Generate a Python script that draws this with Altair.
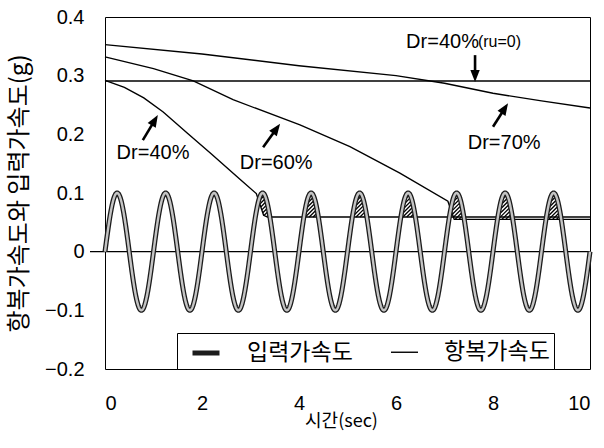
import numpy as np
import pandas as pd
import altair as alt

# ---- input motion: harmonic base acceleration ----
INPUT_AMP_G = 0.1      # peak acceleration (g)
INPUT_FREQ_HZ = 1.0    # loading frequency
DURATION_S = 10.0

# ---- yield acceleration curves (time in s, acceleration in g) ----
DR40_RU0_T = [0.0, 10.0]
DR40_RU0_G = [0.291, 0.291]

DR40_T = [0.0, 0.4, 0.8, 1.2, 1.7, 2.2, 2.8, 3.12, 3.27, 3.35, 10.0]
DR40_G = [0.292, 0.280, 0.262, 0.238, 0.202, 0.166, 0.122, 0.099, 0.062, 0.059, 0.059]

DR60_T = [0.0, 1.0, 1.82, 2.64, 4.02, 5.05, 6.08, 7.07, 7.2, 10.0]
DR60_G = [0.332, 0.312, 0.291, 0.259, 0.216, 0.179, 0.134, 0.086, 0.055, 0.055]

DR70_T = [0.0, 2.0, 4.0, 6.0, 7.0, 8.0, 9.0, 10.0]
DR70_G = [0.353, 0.337, 0.317, 0.300, 0.287, 0.270, 0.257, 0.245]

CURVES = {
    "Dr=40%(ru=0)": (DR40_RU0_T, DR40_RU0_G),
    "Dr=40%": (DR40_T, DR40_G),
    "Dr=60%": (DR60_T, DR60_G),
    "Dr=70%": (DR70_T, DR70_G),
}

# ---- annotations ----
LABEL_TEXT = ["Dr=40%", "Dr=60%", "Dr=70%", "Dr=40%", "(ru=0)"]
LABEL_T = [0.99, 3.53, 8.23, 7.71, 7.69]
LABEL_G = [0.168, 0.151, 0.185, 0.357, 0.357]
LABEL_ALIGN = ["center", "center", "center", "right", "left"]
LABEL_SIZE = [20, 20, 20, 20, 16]

ARROW_TAIL_T = [0.78, 3.26, 8.00, 7.63]
ARROW_TAIL_G = [0.190, 0.178, 0.213, 0.335]
ARROW_TIP_T = [1.09, 3.61, 8.31, 7.63]
ARROW_TIP_G = [0.233, 0.218, 0.253, 0.289]

X_TICKS = [0, 2, 4, 6, 8, 10]
Y_TICKS = [-0.2, -0.1, 0, 0.1, 0.2, 0.3, 0.4]
KINDS = ["입력가속도", "항복가속도"]

W, H = 485, 352
X_DOM = [0, 10]
Y_DOM = [-0.2, 0.4]
SX = W / (X_DOM[1] - X_DOM[0])
SY = H / (Y_DOM[1] - Y_DOM[0])

NUM_FONT = "Liberation Sans"
KR_FONT = "Noto Sans CJK KR"

# ---- tables ----
t_line = np.linspace(0, DURATION_S, 2001)
acc_line = INPUT_AMP_G * np.sin(2 * np.pi * INPUT_FREQ_HZ * t_line)
sine_df = pd.DataFrame({"t": t_line, "g": acc_line, "kind": KINDS[0]})

yield_rows = []
for name, (ts, gs) in CURVES.items():
    for tv, gv in zip(ts, gs):
        yield_rows.append({"t": tv, "g": gv, "curve": name, "kind": KINDS[1]})
yield_df = pd.DataFrame(yield_rows)

# hatch strokes ("/" direction) where the input exceeds the lowest yield level
t_f = np.linspace(0, DURATION_S, 20001)
acc_f = INPUT_AMP_G * np.sin(2 * np.pi * INPUT_FREQ_HZ * t_f)
floor_f = np.minimum.reduce([np.interp(t_f, ts, gs) for ts, gs in CURVES.values()])
over = acc_f > floor_f
hatch_rows = []
for c in np.arange(-80.0, W + 80.0, 3.9):
    g_line = (t_f * SX - c) / SY
    m = over & (g_line >= floor_f) & (g_line <= acc_f)
    idx = np.flatnonzero(m)
    if idx.size < 2:
        continue
    brk = np.flatnonzero(np.diff(idx) > 1)
    starts = np.r_[idx[0], idx[brk + 1]]
    ends = np.r_[idx[brk], idx[-1]]
    for s, e in zip(starts, ends):
        if e > s:
            hatch_rows.append({"t1": t_f[s], "g1": g_line[s], "t2": t_f[e], "g2": g_line[e]})
hatch_df = pd.DataFrame(hatch_rows)

label_df = pd.DataFrame({"text": LABEL_TEXT, "t": LABEL_T, "g": LABEL_G,
                         "align": LABEL_ALIGN, "size": LABEL_SIZE})

HEAD_SIZE = 170
head_r = np.sqrt(HEAD_SIZE) / 2
arrow_rows = []
for tt, tg, pt, pg in zip(ARROW_TAIL_T, ARROW_TAIL_G, ARROW_TIP_T, ARROW_TIP_G):
    dx, dy = (pt - tt) * SX, (pg - tg) * SY
    L = np.hypot(dx, dy)
    ang = float(np.degrees(np.arctan2(dx, dy))) % 360
    ht = pt - head_r * dx / L / SX
    hg = pg - head_r * dy / L / SY
    arrow_rows.append({"t1": tt, "g1": tg, "t2": ht, "g2": hg, "angle": ang})
arrow_df = pd.DataFrame(arrow_rows)

# ---- encodings ----
x_scale = alt.Scale(domain=X_DOM, nice=False, zero=False)
y_scale = alt.Scale(domain=Y_DOM, nice=False, zero=False)

x_axis = alt.Axis(values=X_TICKS, title="시간(sec)", ticks=False, domain=False, grid=False,
                  labelPadding=24, labelFontSize=20, labelFont=NUM_FONT, labelColor="black",
                  titleFont=KR_FONT, titleFontSize=18, titleFontWeight="normal", titleColor="black",
                  titleX=236, titleY=52, titleBaseline="middle", titleAlign="center")
y_axis = alt.Axis(values=Y_TICKS, title="항복가속도와 입력가속도(g)", format=".1~f",
                  ticks=False, domain=False, grid=False,
                  labelPadding=21, labelFontSize=20, labelFont=NUM_FONT, labelColor="black",
                  titleFont=KR_FONT, titleFontSize=24, titleFontWeight="normal", titleColor="black",
                  titleX=-86, titleY=H / 2, titleBaseline="middle", titleAlign="center",
                  titleAngle=270)

legend = alt.Legend(title=None, orient="none", legendX=72, legendY=316,
                    direction="horizontal", symbolType="stroke", symbolSize=729,
                    symbolOffset=9, labelOffset=25, columnPadding=28, padding=4,
                    labelFont=KR_FONT, labelFontSize=23, labelColor="black", labelLimit=400,
                    strokeColor="black", fillColor="white")

color_enc = alt.Color("kind:N", scale=alt.Scale(domain=KINDS, range=["#1c1c1c", "#000000"]),
                      legend=legend)
width_enc = alt.StrokeWidth("kind:N", scale=alt.Scale(domain=KINDS, range=[5, 1.4]),
                            legend=legend)


def X(f):
    return alt.X(f, type="quantitative", scale=x_scale, axis=x_axis)


def Y(f):
    return alt.Y(f, type="quantitative", scale=y_scale, axis=y_axis)


zero_rule = alt.Chart(pd.DataFrame({"g": [0.0]})).mark_rule(
    color="black", strokeWidth=1.3, clip=False
).encode(y=Y("g"), x=alt.value(-15), x2=alt.value(W))

hatch = alt.Chart(hatch_df).mark_rule(color="black", strokeWidth=1.3).encode(
    x=X("t1"), y=Y("g1"), x2="t2", y2="g2"
)

yield_lines = alt.Chart(yield_df).mark_line(interpolate="linear").encode(
    x=X("t"), y=Y("g"), detail="curve:N", color=color_enc, strokeWidth=width_enc
)

sine_outer = alt.Chart(sine_df).mark_line().encode(
    x=X("t"), y=Y("g"), color=color_enc, strokeWidth=width_enc
)
sine_inner = alt.Chart(sine_df).mark_line(color="#c4c4c4", strokeWidth=2.4).encode(
    x=X("t"), y=Y("g")
)

label_layers = []
for al in ["center", "right", "left"]:
    label_layers.append(
        alt.Chart(label_df[label_df["align"] == al]).mark_text(
            font=NUM_FONT, color="black", baseline="middle", align=al
        ).encode(
            x=X("t"), y=Y("g"), text="text:N",
            size=alt.Size("size:Q", scale=None, legend=None),
        )
    )

shafts = alt.Chart(arrow_df).mark_rule(color="black", strokeWidth=2.6).encode(
    x=X("t1"), y=Y("g1"), x2="t2", y2="g2"
)
heads = alt.Chart(arrow_df).mark_point(
    shape="M0,-1L0.72,0.85L-0.72,0.85Z", filled=True, color="black", opacity=1, size=HEAD_SIZE
).encode(x=X("t2"), y=Y("g2"), angle=alt.Angle("angle:Q", scale=None))

chart = alt.layer(
    zero_rule, hatch, yield_lines, sine_outer, sine_inner, shafts, heads, *label_layers
).properties(
    width=W, height=H, autosize=alt.AutoSizeParams(type="none"),
    padding={"left": 105, "top": 17, "right": 14, "bottom": 79},
    background="white",
).configure_view(
    stroke="black", strokeWidth=1
)

chart.save("out.html", embed_options={"renderer": "svg", "actions": False})
